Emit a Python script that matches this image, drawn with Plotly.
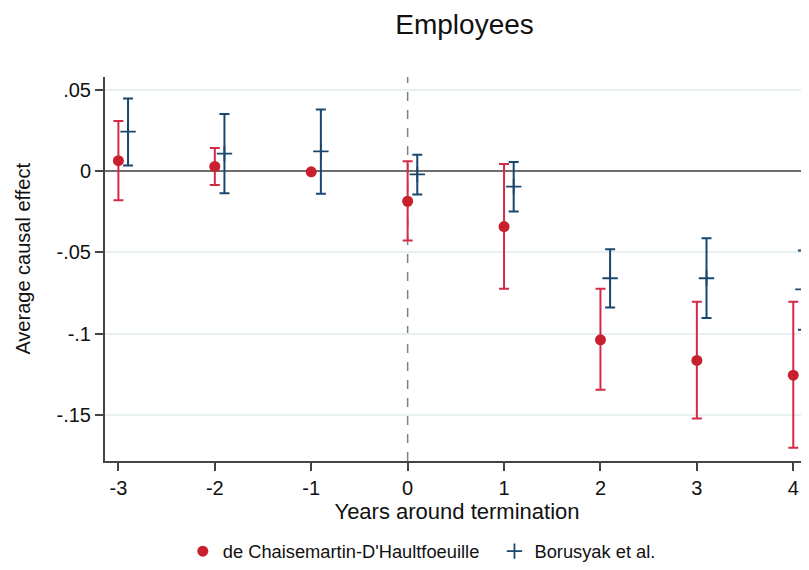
import plotly.graph_objects as go

years = [-3, -2, -1, 0, 1, 2, 3, 4]

# de Chaisemartin-D'Haultfoeuille
dcdh_est = [0.0065, 0.0029, -0.0004, -0.0185, -0.0341, -0.1038, -0.1165, -0.1256]
dcdh_hi = [0.0309, 0.0143, None, 0.0061, 0.0045, -0.0723, -0.0803, -0.0803]
dcdh_lo = [-0.0179, -0.0085, None, -0.0427, -0.0723, -0.1345, -0.1522, -0.1703]

# Borusyak et al.
bjs_est = [0.0244, 0.0108, 0.0122, -0.0020, -0.0095, -0.0659, -0.0659, -0.0727]
bjs_hi = [0.0448, 0.0352, 0.0380, 0.0102, 0.0057, -0.0480, -0.0412, -0.0488]
bjs_lo = [0.0035, -0.0136, -0.0138, -0.0144, -0.0248, -0.0839, -0.0904, -0.0976]

ytick_vals = [0.05, 0, -0.05, -0.1, -0.15]
ytick_text = [".05", "0", "-.05", "-.1", "-.15"]
xtick_vals = [-3, -2, -1, 0, 1, 2, 3, 4]
xtick_text = ["-3", "-2", "-1", "0", "1", "2", "3", "4"]

OFFSET = 0.1
RED = "#c8202e"
RED_CI = "#d42a45"
BLUE = "#1a476f"
FONT = "Liberation Sans, Arial, sans-serif"


def up(hi, est):
    return [0 if h is None else h - e for h, e in zip(hi, est)]


def down(lo, est):
    return [0 if l is None else e - l for l, e in zip(lo, est)]


fig = go.Figure()

fig.add_trace(go.Scatter(
    x=years, y=dcdh_est, mode="markers",
    name="de Chaisemartin-D'Haultfoeuille  ",
    marker=dict(symbol="circle", size=11, color=RED),
    error_y=dict(type="data", symmetric=False,
                 array=up(dcdh_hi, dcdh_est), arrayminus=down(dcdh_lo, dcdh_est),
                 color=RED_CI, thickness=2, width=5),
))

fig.add_trace(go.Scatter(
    x=[y + OFFSET for y in years], y=bjs_est, mode="markers",
    name="Borusyak et al.",
    marker=dict(symbol="cross-thin", size=11, color=BLUE,
                line=dict(color=BLUE, width=1.8)),
    error_y=dict(type="data", symmetric=False,
                 array=up(bjs_hi, bjs_est), arrayminus=down(bjs_lo, bjs_est),
                 color=BLUE, thickness=2, width=5),
))

fig.add_shape(type="line", xref="x", yref="paper", x0=0, x1=0, y0=0, y1=1,
              line=dict(color="#808080", width=1.5, dash="dash"), layer="below")

fig.add_annotation(text="Average causal effect", xref="paper", yref="paper",
                   x=-0.1165, y=0.527, xanchor="center", yanchor="middle",
                   textangle=-90, showarrow=False,
                   font=dict(size=20, family=FONT, color="#111111"))

fig.update_layout(
    width=801, height=562,
    margin=dict(l=97, r=0, t=69, b=106),
    paper_bgcolor="white", plot_bgcolor="white",
    font=dict(family=FONT, size=18, color="#111111"),
    title=dict(text="Employees", x=0.57, xanchor="center", y=0.971, yanchor="middle",
               font=dict(size=28, family=FONT, color="#111111")),
    showlegend=True,
    legend=dict(orientation="h", x=0.45, xanchor="center", y=-0.235, yanchor="middle",
                font=dict(size=18.3), itemwidth=30, traceorder="normal"),
    xaxis=dict(range=[-3.139, 4.163], tickvals=xtick_vals, ticktext=xtick_text,
               tickfont=dict(size=20),
               showgrid=False, zeroline=False, showline=True, linecolor="#444444",
               linewidth=2, ticks="outside", ticklen=8, tickwidth=1.5, tickcolor="#444444",
               title=dict(text="Years around termination", standoff=6,
                          font=dict(size=22))),
    yaxis=dict(range=[-0.1784, 0.058], tickvals=ytick_vals, ticktext=ytick_text,
               tickfont=dict(size=20),
               showgrid=True, gridcolor="#e8f0f3", gridwidth=1.5,
               zeroline=True, zerolinecolor="#6e6e6e", zerolinewidth=1.5,
               showline=True, linecolor="#444444", linewidth=2,
               ticks="outside", ticklen=8, tickwidth=1.5, tickcolor="#444444"),
)

fig.write_html("out.html")
